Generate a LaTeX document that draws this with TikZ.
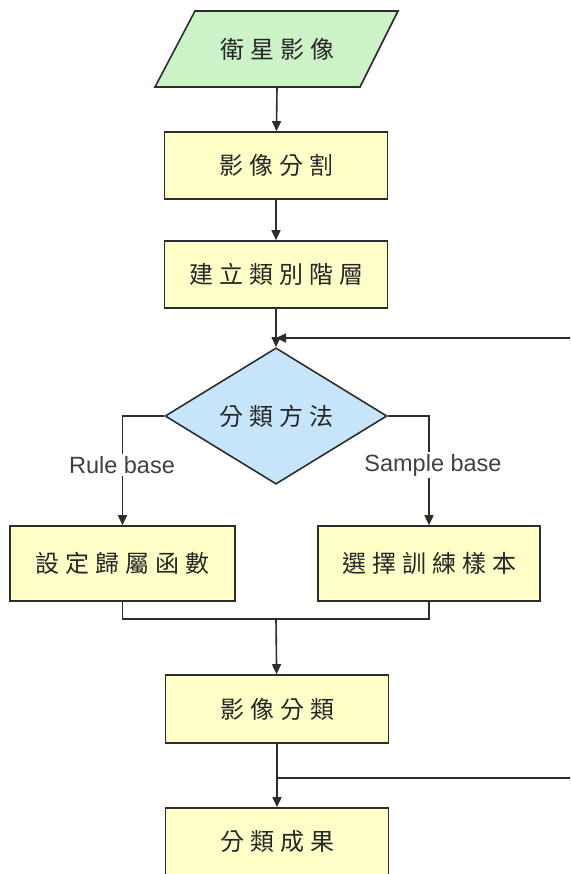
\documentclass[tikz,border=0pt]{standalone}
\usepackage{fontspec}
\setmainfont{Liberation Sans}
\newfontfamily\cjk[LetterSpace=25]{Noto Sans CJK TC}
\usetikzlibrary{arrows.meta,shapes.geometric}
\definecolor{boxyellow}{RGB}{255,255,200}
\definecolor{pargreen}{RGB}{204,242,200}
\definecolor{diablue}{RGB}{198,228,250}
\definecolor{linegray}{RGB}{45,45,45}
\begin{document}
\begin{tikzpicture}[x=1pt,y=-1pt,
  cjktext/.style={font={\cjk\fontsize{24}{28}\selectfont}, text=black!85},
  box/.style={draw=linegray, line width=1.6pt, fill=boxyellow, minimum width=223pt, minimum height=67pt, inner sep=0pt, cjktext},
  conn/.style={draw=linegray, line width=1.6pt},
  arr/.style={conn, -{Triangle[length=10pt,width=9pt]}},
  lbl/.style={fill=white, inner sep=2pt, font=\fontsize{23.5}{27}\selectfont, text=black!75}]
\useasboundingbox (0,0) rectangle (570,874);
\clip (0,0) rectangle (570,874);
% input parallelogram
\draw[conn, fill=pargreen] (195,11) -- (398,11) -- (360,87) -- (155,87) -- cycle;
\node[minimum width=205pt, minimum height=76pt, inner sep=0pt, cjktext] (sat) at (277,49) {衛星影像};
\node[box] (seg) at (276,165.5) {影像分割};
\node[box] (hier) at (276,274.5) {建立類別階層};
\coordinate (join) at (276,338);
\coordinate (fbtop) at (571,338);
\node[diamond, draw=linegray, line width=1.6pt, fill=diablue, minimum width=222pt, minimum height=102pt, inner sep=0pt, cjktext] (dia) at (276,416) {分類方法};
\node[box, minimum width=225pt, minimum height=75pt] (rule) at (122.5,563.5) {設定歸屬函數};
\node[box, minimum width=222pt, minimum height=75pt] (samp) at (429,563.5) {選擇訓練樣本};
\coordinate (merge) at (276,619);
\node[box, minimum height=68pt] (cls) at (277,709) {影像分類};
\coordinate (fbjoin) at (277,778);
\coordinate (fbbot) at (571,778);
\node[box] (res) at (277,841.5) {分類成果};
% connectors
\draw[arr] (sat.south) -- (seg);
\draw[arr] (seg) -- (hier);
\draw[conn] (hier) -- (join);
\draw[arr] (join) -- (dia);
\draw[arr] (fbtop) -- (join);
\draw[arr] (dia.west) -| (rule);
\draw[arr] (dia.east) -| (samp);
\draw[conn] (rule.south) |- (merge) -| (samp.south);
\draw[arr] (merge) -- (cls);
\draw[arr] (cls) -- (res);
\draw[conn] (fbjoin) -- (fbbot);
\node[lbl] (rl) at (122,465) {Rule base};
\node[lbl] (sl) at (433,465) {Sample base};
\end{tikzpicture}
\end{document}
